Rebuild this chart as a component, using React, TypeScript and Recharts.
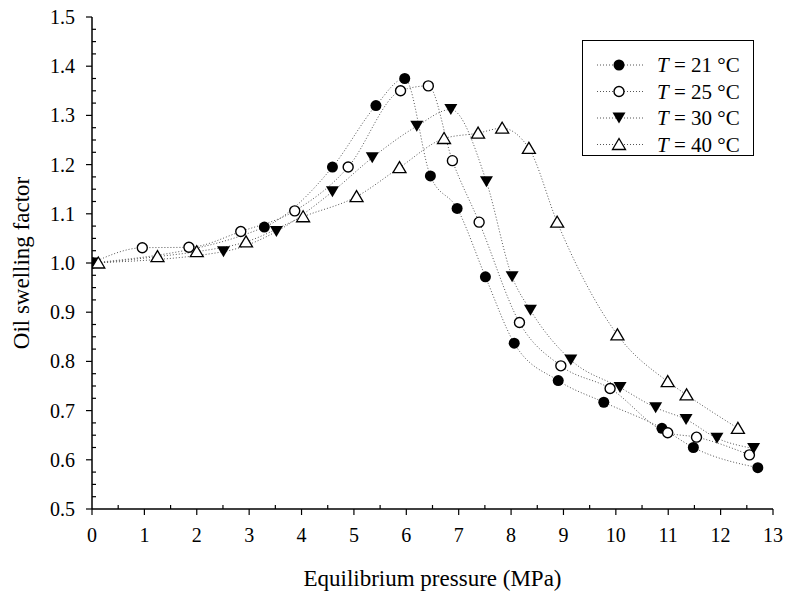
import React from "react"
import { LineChart, Line, XAxis, YAxis, Legend } from "recharts"

// pressure (MPa) vs oil swelling factor
const P_21 = [0, 3.29, 4.59, 5.42, 5.97, 6.46, 6.97, 7.51, 8.06, 8.9, 9.77, 10.88, 11.48, 12.71]
const S_21 = [1.0, 1.073, 1.195, 1.32, 1.375, 1.177, 1.111, 0.972, 0.837, 0.761, 0.717, 0.664, 0.625, 0.584]

const P_25 = [0, 0.96, 1.85, 2.84, 3.87, 4.89, 5.89, 6.42, 6.88, 7.39, 8.16, 8.95, 9.89, 10.99, 11.54, 12.55]
const S_25 = [1.0, 1.031, 1.032, 1.064, 1.106, 1.195, 1.35, 1.36, 1.208, 1.083, 0.879, 0.791, 0.745, 0.655, 0.646, 0.61]

const P_30 = [0, 2.51, 3.52, 4.59, 5.35, 6.2, 6.85, 7.53, 8.02, 8.37, 9.14, 10.08, 10.76, 11.34, 11.93, 12.63]
const S_30 = [1.0, 1.023, 1.064, 1.145, 1.214, 1.278, 1.312, 1.165, 0.972, 0.904, 0.803, 0.747, 0.706, 0.682, 0.644, 0.623]

const P_40 = [0.12, 1.25, 2.0, 2.94, 4.03, 5.05, 5.87, 6.72, 7.37, 7.83, 8.34, 8.88, 10.03, 10.99, 11.35, 12.33]
const S_40 = [1.0, 1.013, 1.023, 1.043, 1.094, 1.135, 1.194, 1.253, 1.264, 1.274, 1.233, 1.083, 0.854, 0.759, 0.732, 0.664]

const TEMPS = ["21", "25", "30", "40"]
const MARKERS = ["dot", "ring", "down", "up"]

const X_MAJOR = [0, 1, 2, 3, 4, 5, 6, 7, 8, 9, 10, 11, 12, 13]
const Y_MAJOR = [0.5, 0.6, 0.7, 0.8, 0.9, 1.0, 1.1, 1.2, 1.3, 1.4, 1.5]

// minor ticks: halves on x, quarters of 0.1 on y
const X_TICKS = X_MAJOR.flatMap((v, i) => (i === 0 ? [v] : [v - 0.5, v]))
const Y_TICKS = Y_MAJOR.flatMap((v, i) =>
  i === 0 ? [v] : [0.075, 0.05, 0.025].map((d) => Math.round((v - d) * 1000) / 1000).concat(v)
)

const FONT = "'Liberation Serif', 'Times New Roman', serif"

const toRows = (p: number[], s: number[]) => p.map((x, i) => ({ p: x, s: s[i] }))
const SERIES = [toRows(P_21, S_21), toRows(P_25, S_25), toRows(P_30, S_30), toRows(P_40, S_40)]

const isMajorX = (v: number) => Math.abs(v - Math.round(v)) < 1e-6
const isMajorY = (v: number) => Math.abs(v * 10 - Math.round(v * 10)) < 1e-6

function Marker({ kind, cx, cy }: { kind: string; cx: number; cy: number }) {
  if (kind === "dot") return <circle cx={cx} cy={cy} r={5.5} fill="#000" />
  if (kind === "ring") return <circle cx={cx} cy={cy} r={5} fill="#fff" stroke="#000" strokeWidth={1.4} />
  if (kind === "down")
    return (
      <polygon
        points={`${cx - 6.5},${cy - 5.5} ${cx + 6.5},${cy - 5.5} ${cx},${cy + 5.5}`}
        fill="#000"
      />
    )
  return (
    <polygon
      points={`${cx},${cy - 6} ${cx - 6.5},${cy + 5} ${cx + 6.5},${cy + 5}`}
      fill="#fff"
      stroke="#000"
      strokeWidth={1.3}
    />
  )
}

const dotFor = (kind: string) => (props: any) =>
  <Marker key={`${kind}-${props.index}`} kind={kind} cx={props.cx} cy={props.cy} />

const BottomTick = ({ x, y, payload }: any) => {
  const major = isMajorX(payload.value)
  return (
    <g>
      <line x1={x} x2={x} y1={y} y2={major ? y + 6 : y - 4} stroke="#000" strokeWidth={1.2} />
      {major && (
        <text x={x} y={y + 33} textAnchor="middle" fontFamily={FONT} fontSize={20} fill="#000">
          {payload.value}
        </text>
      )}
    </g>
  )
}

const TopTick = ({ x, y, payload }: any) => (
  <line x1={x} x2={x} y1={y} y2={y + (isMajorX(payload.value) ? 6 : 4)} stroke="#000" strokeWidth={1.2} />
)

const LeftTick = ({ x, y, payload }: any) => {
  const major = isMajorY(payload.value)
  return (
    <g>
      <line x1={x} x2={major ? x - 6 : x + 4} y1={y} y2={y} stroke="#000" strokeWidth={1.2} />
      {major && (
        <text x={x - 17} y={y} dy="0.35em" textAnchor="end" fontFamily={FONT} fontSize={20} fill="#000">
          {payload.value.toFixed(1)}
        </text>
      )}
    </g>
  )
}

const RightTick = ({ x, y, payload }: any) => (
  <line x1={x} x2={x - (isMajorY(payload.value) ? 6 : 4)} y1={y} y2={y} stroke="#000" strokeWidth={1.2} />
)

function LegendBox() {
  return (
    <svg width={172} height={116} style={{ display: "block" }}>
      <rect x={0.5} y={0.5} width={171} height={115} fill="#fff" stroke="#000" strokeWidth={1} />
      {TEMPS.map((t, i) => {
        const cy = 25 + i * 26.5
        return (
          <g key={t}>
            <line x1={15} x2={61} y1={cy} y2={cy} stroke="#555" strokeDasharray="1 2" />
            <Marker kind={MARKERS[i]} cx={37} cy={cy} />
            <text x={75} y={cy} dy="0.35em" fontFamily={FONT} fontSize={21} fill="#000">
              <tspan fontStyle="italic">T</tspan>
              {` = ${t} °C`}
            </text>
          </g>
        )
      })}
    </svg>
  )
}

const axisLine = { stroke: "#000", strokeWidth: 1.5 }

export default function App() {
  return (
    <div style={{ position: "absolute", left: 0, top: 0, background: "#fff" }}>
      <LineChart width={785} height={592} margin={{ top: 17, right: 12, bottom: 0, left: 0 }}>
        <XAxis
          xAxisId="b"
          dataKey="p"
          type="number"
          domain={[0, 13]}
          ticks={X_TICKS}
          interval={0}
          height={83}
          tickSize={0}
          tickMargin={0}
          tickLine={false}
          axisLine={axisLine}
          tick={<BottomTick />}
          allowDataOverflow
          label={{
            content: (p: any) => (
              <text
                x={p.viewBox.x + p.viewBox.width / 2}
                y={p.viewBox.y + 77}
                textAnchor="middle"
                fontFamily={FONT}
                fontSize={23}
                fill="#000"
              >
                Equilibrium pressure (MPa)
              </text>
            ),
          }}
        />
        <XAxis
          xAxisId="t"
          orientation="top"
          dataKey="p"
          type="number"
          domain={[0, 13]}
          ticks={X_TICKS}
          interval={0}
          height={0}
          tickSize={0}
          tickMargin={0}
          tickLine={false}
          axisLine={axisLine}
          tick={<TopTick />}
          allowDataOverflow
        />
        <YAxis
          yAxisId="l"
          type="number"
          domain={[0.5, 1.5]}
          ticks={Y_TICKS}
          interval={0}
          width={92}
          tickSize={0}
          tickMargin={0}
          tickLine={false}
          axisLine={axisLine}
          tick={<LeftTick />}
          allowDataOverflow
          label={{
            content: (p: any) => (
              <text
                transform={`translate(${p.viewBox.x + 29}, ${p.viewBox.y + p.viewBox.height / 2}) rotate(-90)`}
                textAnchor="middle"
                fontFamily={FONT}
                fontSize={23}
                fill="#000"
              >
                Oil swelling factor
              </text>
            ),
          }}
        />
        <YAxis
          yAxisId="r"
          orientation="right"
          type="number"
          domain={[0.5, 1.5]}
          ticks={Y_TICKS}
          interval={0}
          width={0}
          tickSize={0}
          tickMargin={0}
          tickLine={false}
          axisLine={axisLine}
          tick={<RightTick />}
          allowDataOverflow
        />
        <Legend
          layout="vertical"
          align="center"
          verticalAlign="middle"
          wrapperStyle={{ left: 582, top: 40, width: 172, height: 116 }}
          content={() => <LegendBox />}
        />
        {SERIES.map((rows, i) => (
          <Line
            key={TEMPS[i]}
            xAxisId="b"
            yAxisId="l"
            data={rows}
            dataKey="s"
            name={`T = ${TEMPS[i]} °C`}
            type="monotone"
            stroke="#555"
            strokeWidth={1}
            strokeDasharray="1 2"
            dot={dotFor(MARKERS[i])}
            activeDot={false}
            isAnimationActive={false}
          />
        ))}
      </LineChart>
    </div>
  )
}
